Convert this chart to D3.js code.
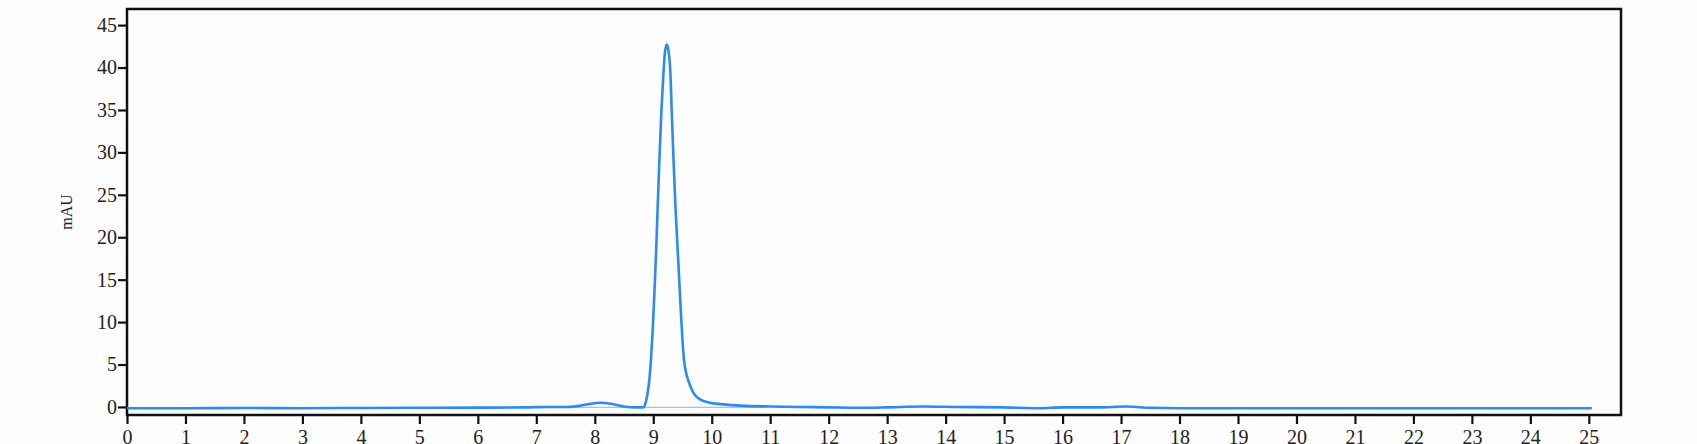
<!doctype html>
<html>
<head>
<meta charset="utf-8">
<script src="https://d3js.org/d3.v7.min.js"></script>
<style>
  html, body { margin: 0; padding: 0; background: #fdfdfd; }
  svg { display: block; }
</style>
</head>
<body>
<svg id="chart" width="1697" height="444"></svg>
<script>
// retention time (min) and detector signal (mAU)
var times = [0, 1, 2, 3, 4, 5, 6, 6.8, 7.2, 7.5, 7.7, 7.9, 8.1, 8.3, 8.5, 8.7, 8.8,
             8.84, 8.87, 8.90, 8.93, 8.96, 8.99, 9.02, 9.05, 9.08, 9.11, 9.14, 9.17, 9.20, 9.23,
             9.26, 9.29, 9.32, 9.35, 9.38, 9.41, 9.44, 9.47, 9.50, 9.53, 9.57, 9.62, 9.67, 9.72,
             9.80, 9.90, 10.0, 10.2, 10.5, 11.0, 11.5, 12.0, 12.5, 13.0, 13.6, 14.2, 15.0, 15.6,
             16.0, 16.6, 17.1, 17.5, 18.0, 19, 20, 21, 22, 23, 24, 25.05];
var mau = [-0.15, -0.15, -0.12, -0.15, -0.12, -0.1, -0.08, -0.05, 0.0, 0.0, 0.1, 0.35, 0.5, 0.35, 0.05, -0.05, -0.05,
           0.0, 0.5, 1.5, 3.0, 5.5, 9.0, 13.5, 18.5, 24.5, 30.0, 35.0, 38.8, 41.8, 42.7,
           42.0, 39.8, 34.0, 28.5, 23.5, 19.5, 15.5, 11.5, 7.8, 5.3, 3.8, 2.7, 1.9, 1.35,
           0.9, 0.6, 0.45, 0.3, 0.15, 0.05, 0.0, -0.05, -0.1, -0.05, 0.05, 0.0, -0.05, -0.15,
           -0.05, -0.05, 0.05, -0.1, -0.15, -0.15, -0.15, -0.15, -0.15, -0.15, -0.15, -0.15];
// integration baseline under the main peak
var baseTimes = [7.6, 10.9];
var baseMau = [-0.05, -0.05];

var xTicks = d3.range(0, 26, 1);
var yTicks = d3.range(0, 50, 5);

var W = 1697, H = 444;
var margin = {top: 9, right: 76, bottom: 29, left: 127};

var svg = d3.select("#chart");

var x = d3.scaleLinear().domain([0, 25.55]).range([margin.left, W - margin.right]);
var y = d3.scaleLinear().domain([-0.95, 46.9]).range([H - margin.bottom, margin.top]);

var font = "'Liberation Serif', 'Times New Roman', serif";

svg.append("rect")
    .attr("x", margin.left).attr("y", margin.top)
    .attr("width", W - margin.left - margin.right)
    .attr("height", H - margin.top - margin.bottom)
    .attr("fill", "#fdfdfd");

// x axis
var gx = svg.append("g")
    .attr("transform", "translate(0," + (H - margin.bottom) + ")")
    .call(d3.axisBottom(x).tickValues(xTicks).tickFormat(d3.format("d")).tickSize(9).tickPadding(6));
gx.select(".domain").remove();
gx.selectAll(".tick line").attr("stroke", "#111").attr("stroke-width", 2.2);
gx.selectAll(".tick text").attr("font-family", font).attr("font-size", 20).attr("fill", "#222");

// y axis
var gy = svg.append("g")
    .attr("transform", "translate(" + margin.left + ",0)")
    .call(d3.axisLeft(y).tickValues(yTicks).tickFormat(d3.format("d")).tickSize(9).tickPadding(1));
gy.select(".domain").remove();
gy.selectAll(".tick line").attr("stroke", "#111").attr("stroke-width", 2.2);
gy.selectAll(".tick text").attr("font-family", font).attr("font-size", 20).attr("fill", "#222");

// frame
svg.append("rect")
    .attr("x", margin.left).attr("y", margin.top)
    .attr("width", W - margin.left - margin.right)
    .attr("height", H - margin.top - margin.bottom)
    .attr("fill", "none").attr("stroke", "#111").attr("stroke-width", 2.5);

// y label
svg.append("text")
    .attr("transform", "translate(72," + ((margin.top + H - margin.bottom) / 2) + ") rotate(-90)")
    .attr("text-anchor", "middle")
    .attr("font-family", font).attr("font-size", 16).attr("fill", "#222")
    .text("mAU");

// integration baseline
svg.append("path")
    .datum(d3.zip(baseTimes, baseMau))
    .attr("fill", "none").attr("stroke", "#9cc4ee").attr("stroke-width", 1.3)
    .attr("d", d3.line().x(function(d) { return x(d[0]); }).y(function(d) { return y(d[1]); }));

// trace
svg.append("path")
    .datum(d3.zip(times, mau))
    .attr("fill", "none").attr("stroke", "#2b8bee").attr("stroke-width", 2.6)
    .attr("stroke-linejoin", "round")
    .attr("d", d3.line().curve(d3.curveMonotoneX)
        .x(function(d) { return x(d[0]); }).y(function(d) { return y(d[1]); }));
</script>
</body>
</html>
